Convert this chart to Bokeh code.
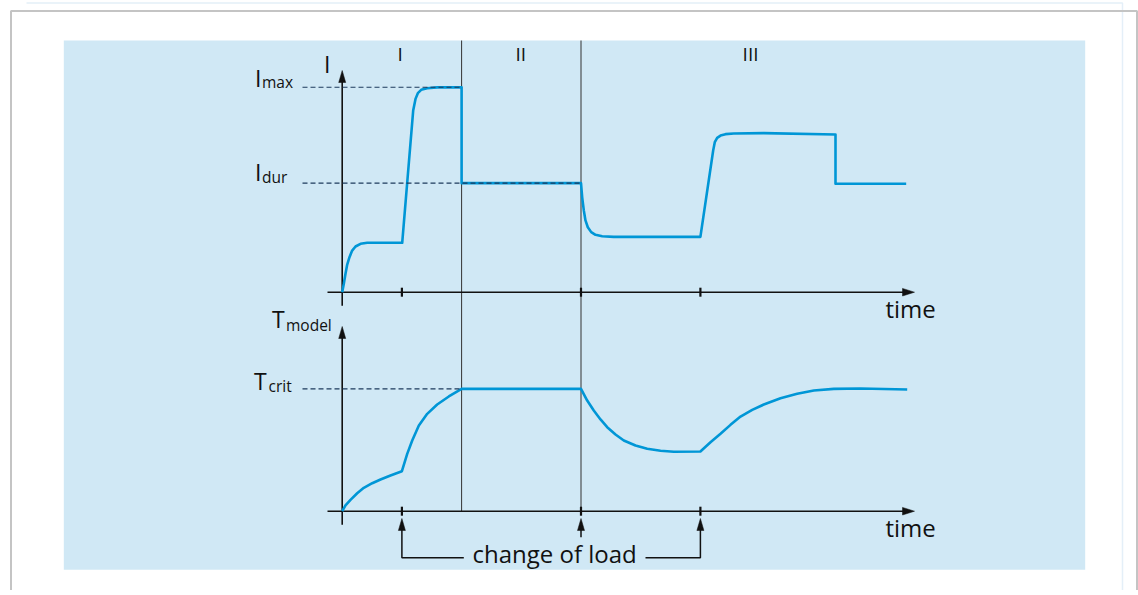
from bokeh.plotting import figure
from bokeh.models import Range1d
from bokeh.core.properties import value
from bokeh.embed import file_html
from bokeh.resources import INLINE

# ---------------- data ----------------
section_names = ["I", "II", "III"]
section_label_t = [0.97, 2.99, 6.84]      # centre of each regime label (time units)
section_bounds = [2.0, 4.0]               # regime boundaries (time units)
load_change_t = [1.0, 4.0, 6.0]           # "change of load" instants
I_MAX = 1.0                               # relative current levels
I_DUR = 0.532
T_CRIT = 1.0                              # relative model temperature

t_current = [0.0, 0.027, 0.055, 0.084, 0.122, 0.167, 0.223, 0.307, 0.419, 1.005,
             1.189, 1.228, 1.267, 1.323, 1.424, 1.591, 2.0,
             2.0, 4.0, 4.02, 4.047, 4.075, 4.114, 4.171, 4.243, 4.355, 4.549, 6.0,
             6.214, 6.241, 6.281, 6.337, 6.42, 6.56, 7.062, 8.263, 8.263, 9.447]
current = [0.0, 0.041, 0.09, 0.135, 0.171, 0.203, 0.223, 0.236, 0.241, 0.241,
           0.886, 0.943, 0.971, 0.987, 0.995, 0.999, 1.0,
           0.532, 0.532, 0.463, 0.399, 0.35, 0.317, 0.293, 0.28, 0.273, 0.27, 0.27,
           0.691, 0.732, 0.753, 0.764, 0.771, 0.774, 0.776, 0.769, 0.529, 0.529]

t_temp = [0.0, 0.055, 0.139, 0.251, 0.362, 0.503, 0.642, 0.809, 1.0,
          1.089, 1.173, 1.284, 1.424, 1.591, 1.786, 2.0, 4.0,
          4.104, 4.214, 4.327, 4.439, 4.578, 4.717, 4.913, 5.109, 5.332, 5.555, 6.0,
          6.169, 6.337, 6.504, 6.672, 6.868, 7.062, 7.342, 7.621, 7.9, 8.235, 8.682, 9.464]
temp = [0.0, 0.047, 0.093, 0.147, 0.191, 0.229, 0.259, 0.292, 0.327,
        0.469, 0.578, 0.701, 0.796, 0.872, 0.938, 1.0, 1.0,
        0.905, 0.823, 0.75, 0.687, 0.627, 0.578, 0.537, 0.51, 0.494, 0.486, 0.488,
        0.564, 0.633, 0.706, 0.774, 0.829, 0.872, 0.924, 0.96, 0.987, 1.0, 1.003, 0.995]

# ---------------- layout / scales ----------------
W, H = 1138, 590
LEFT, TOP = 0, 0
X0, XS = 341.7, 59.7          # pixel of t=0, pixels per time unit
YI0, YIS = 291.7, 205.0       # pixel of I=0, pixels per unit current
YT0, YTS = 510.7, 122.3       # pixel of T=0, pixels per unit temperature
DY = -10                      # text baseline correction


def t_of(px):
    return (px - X0) / XS


def px_of(t):
    return X0 + XS * t


p = figure(width=W, height=H, output_backend="svg", toolbar_location=None,
           x_axis_type=None, y_axis_type=None, min_border=0,
           x_range=Range1d(t_of(LEFT), t_of(LEFT + W)),
           y_range=Range1d((YI0 - (TOP + H)) / YIS, (YI0 - TOP) / YIS),
           background_fill_color="white", border_fill_color="white",
           outline_line_color=None)
p.extra_y_ranges = {"T": Range1d((YT0 - (TOP + H)) / YTS, (YT0 - TOP) / YTS),
                    "py": Range1d(TOP + H, TOP)}
p.extra_x_ranges = {"px": Range1d(LEFT, LEFT + W)}
p.grid.visible = False

FONT = value("Open Sans")
BLACK = "#111111"
CURVE = "#0096d6"
DASH = "#1c3a5c"

# page frame
p.line([26, 1122, 1122], [2.5, 2.5, TOP + H], x_range_name="px", y_range_name="py",
       line_color="#e4eff8", line_width=1.5)
p.line([10.5, 10.5, 1136.5, 1136.5], [TOP + H, 10.5, 10.5, TOP + H],
       x_range_name="px", y_range_name="py", line_color="#c4c4c4", line_width=2)

# light blue panel
p.quad(left=63.3, right=1084.7, top=40, bottom=569.3, x_range_name="px", y_range_name="py",
       fill_color="#d0e8f5", line_color=None)

# regime boundaries
for tb in section_bounds:
    p.line([tb, tb], [40, YT0], y_range_name="py", line_color="#333333", line_width=1)

# axes (top and bottom)
for y0, ytop in [(YI0, 70), (YT0, 326)]:
    p.line([0, 0], [y0 + 13.5, ytop + 10], y_range_name="py", line_color=BLACK, line_width=1.6)
    p.patch([px_of(0) - 3.5, px_of(0), px_of(0) + 3.5], [ytop + 12, ytop, ytop + 12],
            x_range_name="px", y_range_name="py", fill_color=BLACK, line_color=BLACK, line_width=0.5)
    p.line([t_of(327), t_of(904)], [y0, y0], y_range_name="py", line_color=BLACK, line_width=1.6)
    p.patch([902, 914, 902], [y0 - 3.8, y0, y0 + 3.8], x_range_name="px", y_range_name="py",
            fill_color=BLACK, line_color=BLACK, line_width=0.5)
    for tc in load_change_t:
        p.line([tc, tc], [y0 - 4.5, y0 + 4.5], y_range_name="py", line_color=BLACK, line_width=2.2)

# curves
p.line(t_current, current, line_color=CURVE, line_width=2.6, line_join="round")
p.line(t_temp, temp, y_range_name="T", line_color=CURVE, line_width=2.6, line_join="round")

# reference levels (dashed)
p.line([t_of(302), section_bounds[0]], [I_MAX, I_MAX], line_color=DASH, line_width=1.1, line_dash="5 3")
p.line([t_of(302), section_bounds[1]], [I_DUR, I_DUR], line_color=DASH, line_width=1.1, line_dash="5 3")
p.line([t_of(302), section_bounds[0]], [T_CRIT, T_CRIT], y_range_name="T",
       line_color=DASH, line_width=1.1, line_dash="5 3")

# change-of-load arrows and bracket
for tc in load_change_t:
    p.patch([px_of(tc) - 3.5, px_of(tc), px_of(tc) + 3.5], [530, 518, 530],
            x_range_name="px", y_range_name="py", fill_color=BLACK, line_color=BLACK, line_width=0.5)
p.line([load_change_t[0], load_change_t[0], t_of(463.3)], [528, 557.3, 557.3], y_range_name="py",
       line_color=BLACK, line_width=1.5)
p.line([t_of(645), load_change_t[2], load_change_t[2]], [557.3, 557.3, 528], y_range_name="py",
       line_color=BLACK, line_width=1.5)
p.line([load_change_t[1], load_change_t[1]], [536.7, 528], y_range_name="py",
       line_color=BLACK, line_width=1.5)

# texts
p.text(x=section_label_t, y=[63.3 + DY] * 3, text=section_names, y_range_name="py",
       text_font=FONT, text_font_size="19px", text_align="center",
       text_baseline="alphabetic", text_color=BLACK)
p.text(x=[326.7], y=[73.5 + DY], text=["I"], x_range_name="px", y_range_name="py",
       text_font=FONT, text_font_size="23px", text_align="center",
       text_baseline="alphabetic", text_color=BLACK)

big = dict(x_range_name="px", y_range_name="py", text_font=FONT, text_font_size="23px",
           text_align="left", text_baseline="alphabetic", text_color=BLACK)
small = dict(x_range_name="px", y_range_name="py", text_font=FONT, text_font_size="15.5px",
             text_align="left", text_baseline="alphabetic", text_color=BLACK)
p.text(x=[254.5, 254.5, 271.5, 253.5], y=[v + DY for v in [87.5, 181.5, 328.5, 390.5]],
       text=["I", "I", "T", "T"], **big)
p.text(x=[261.5, 261.5, 285.5, 268], y=[v + DY for v in [91.5, 186, 334.5, 395]],
       text=["max", "dur", "model", "crit"], **small)

p.text(x=[885, 885], y=[318 + DY, 537 + DY], text=["time", "time"], x_range_name="px", y_range_name="py",
       text_font=FONT, text_font_size="24px", text_align="left",
       text_baseline="alphabetic", text_color=BLACK)
p.text(x=[472], y=[563 + DY], text=["change of load"], x_range_name="px", y_range_name="py",
       text_font=FONT, text_font_size="24px", text_align="left",
       text_baseline="alphabetic", text_color=BLACK)

open("out.html", "w").write(file_html(p, INLINE))
